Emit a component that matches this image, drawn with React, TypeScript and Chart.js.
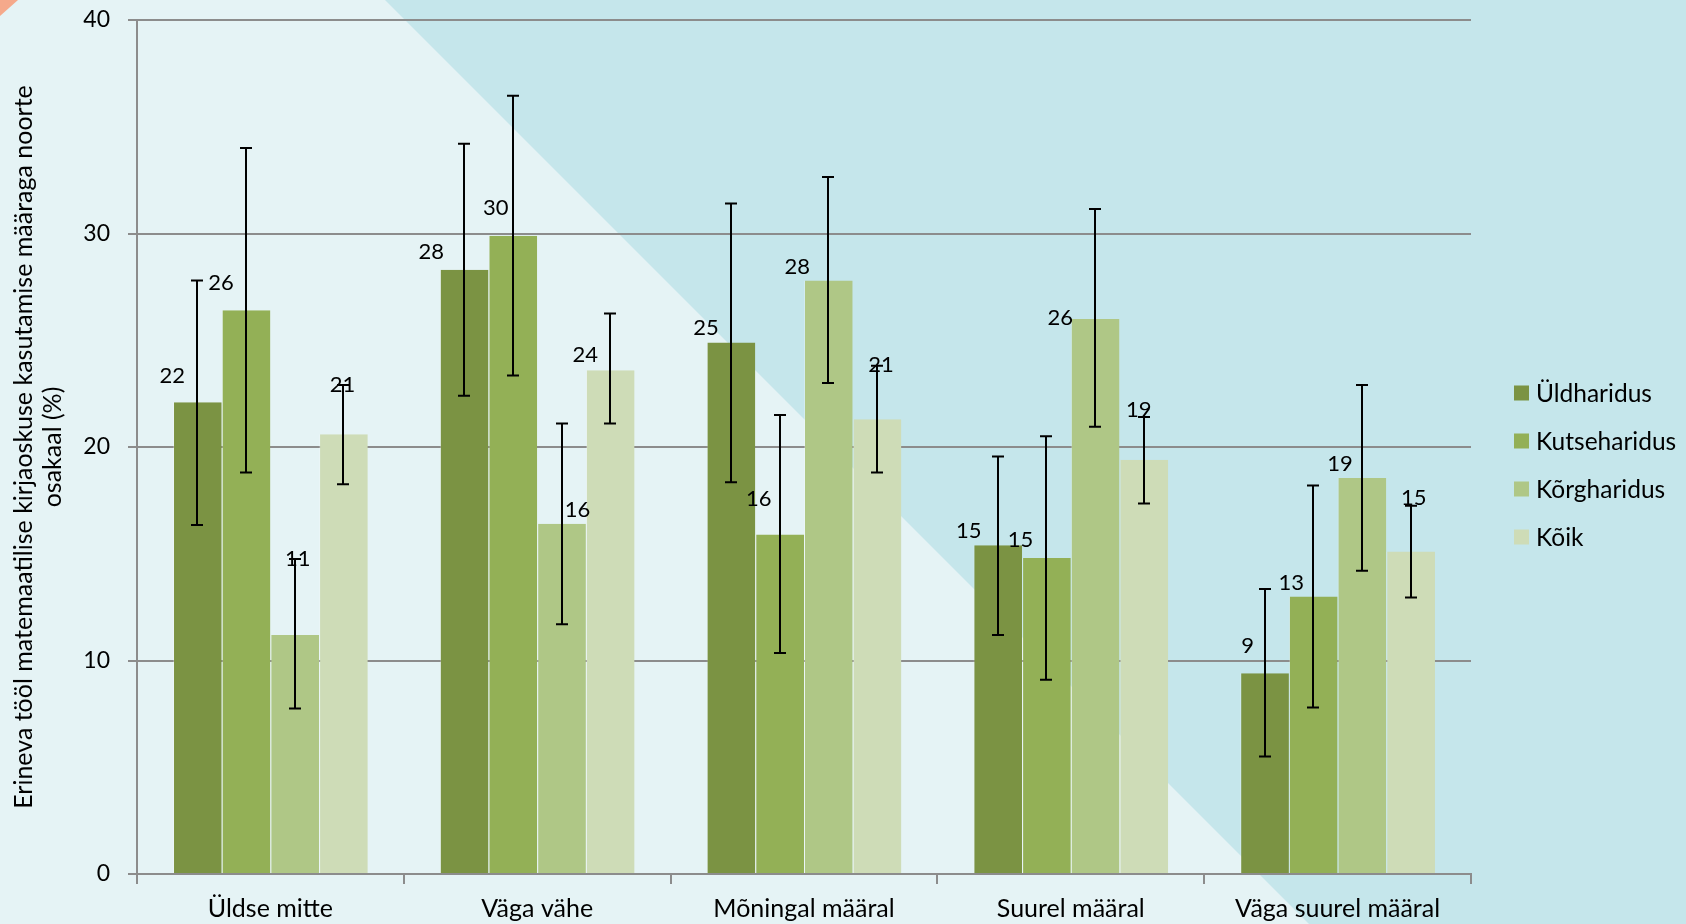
import React, { useEffect, useRef } from "react";
import { Chart, registerables } from "chart.js";

Chart.register(...registerables);

const categories = ["Üldse mitte", "Väga vähe", "Mõningal määral", "Suurel määral", "Väga suurel määral"];
const seriesNames = ["Üldharidus", "Kutseharidus", "Kõrgharidus", "Kõik"];

const yldharidus = [22.1, 28.3, 24.9, 15.4, 9.4];
const kutseharidus = [26.4, 29.9, 15.9, 14.8, 13.0];
const korgharidus = [11.2, 16.4, 27.8, 26.0, 18.55];
const koik = [20.6, 23.6, 21.3, 19.4, 15.1];

const yldLow = [16.35, 22.4, 18.35, 11.2, 5.5];
const yldHigh = [27.8, 34.2, 31.4, 19.55, 13.35];
const kutseLow = [18.8, 23.35, 10.35, 9.1, 7.8];
const kutseHigh = [34.0, 36.45, 21.5, 20.5, 18.2];
const korgLow = [7.75, 11.7, 23.0, 20.95, 14.2];
const korgHigh = [14.75, 21.1, 32.65, 31.15, 22.9];
const koikLow = [18.25, 21.1, 18.8, 17.35, 12.95];
const koikHigh = [22.9, 26.25, 23.8, 21.4, 17.25];

const yTicks = [0, 10, 20, 30, 40];
const yTitle = ["Erineva tööl matemaatilise kirjaoskuse kasutamise määraga noorte", "osakaal (%)"];

// label nudges (px) relative to bar centre / bar top, as placed in the original
const labelNudge = [
  [[-25, -26], [-33, -18], [-25, -14], [-29, -14], [-17, -27]],
  [[-25, -27], [-17, -28], [-21, -36], [-26, -18], [-22, -14]],
  [[3, -76], [16, -14], [-31, -14], [-35, -1], [-22, -14]],
  [[-1, -49], [-25, -15], [4, -54], [-5, -50], [3, -54]],
];

const colors = ["#7b9343", "#93b056", "#afc786", "#cedcb7"];
const FONT = "Lato, 'Open Sans', sans-serif";

export default function App() {
  const ref = useRef<HTMLCanvasElement | null>(null);

  useEffect(() => {
    document.body.style.margin = "0";
    const values = [yldharidus, kutseharidus, korgharidus, koik];
    const lows = [yldLow, kutseLow, korgLow, koikLow];
    const highs = [yldHigh, kutseHigh, korgHigh, koikHigh];

    const bgPlugin = {
      id: "bg",
      beforeDraw(chart: any) {
        const { ctx, width, height } = chart;
        ctx.save();
        ctx.fillStyle = "#e5f3f5";
        ctx.fillRect(0, 0, width, height);
        ctx.fillStyle = "#c5e6eb";
        ctx.beginPath();
        ctx.moveTo(385, 0);
        ctx.lineTo(width, 0);
        ctx.lineTo(width, height);
        ctx.lineTo(385 + height, height);
        ctx.closePath();
        ctx.fill();
        ctx.fillStyle = "#f5a98b";
        ctx.beginPath();
        ctx.moveTo(0, 0);
        ctx.lineTo(18, 0);
        ctx.lineTo(0, 16);
        ctx.closePath();
        ctx.fill();
        ctx.restore();
      },
    };

    const overlayPlugin = {
      id: "overlay",
      afterDatasetsDraw(chart: any) {
        const { ctx, scales } = chart;
        const ys = scales.y;
        ctx.save();
        // data labels
        ctx.font = `22px ${FONT}`;
        ctx.fillStyle = "#000";
        ctx.textAlign = "center";
        ctx.textBaseline = "middle";
        values.forEach((arr, i) => {
          const meta = chart.getDatasetMeta(i);
          meta.data.forEach((el: any, j: number) => {
            const [dx, dy] = labelNudge[i][j];
            const y = ys.getPixelForValue(arr[j]);
            ctx.fillText(String(Math.round(arr[j])), el.x + dx, y + dy);
          });
        });
        // error bars
        ctx.strokeStyle = "#000";
        ctx.lineWidth = 2;
        values.forEach((_arr, i) => {
          const meta = chart.getDatasetMeta(i);
          meta.data.forEach((el: any, j: number) => {
            const x = Math.round(el.x);
            const yl = ys.getPixelForValue(lows[i][j]);
            const yh = ys.getPixelForValue(highs[i][j]);
            ctx.beginPath();
            ctx.moveTo(x, yl);
            ctx.lineTo(x, yh);
            ctx.moveTo(x - 6, yl);
            ctx.lineTo(x + 6, yl);
            ctx.moveTo(x - 6, yh);
            ctx.lineTo(x + 6, yh);
            ctx.stroke();
          });
        });
        ctx.restore();
      },
      afterDraw(chart: any) {
        const { ctx, chartArea } = chart;
        ctx.save();
        ctx.font = `24.5px ${FONT}`;
        ctx.textAlign = "left";
        ctx.textBaseline = "middle";
        const mid = (chartArea.top + chartArea.bottom) / 2 + 18;
        chart.data.datasets.forEach((ds: any, i: number) => {
          const y = mid + (i - 1.5) * 48;
          const x = chartArea.right + 43;
          ctx.fillStyle = ds.backgroundColor;
          ctx.fillRect(x, y - 7.5, 15, 15);
          ctx.fillStyle = "#000";
          ctx.fillText(ds.label, x + 22, y + 1);
        });
        ctx.restore();
      },
    };

    const chart = new Chart(ref.current as HTMLCanvasElement, {
      type: "bar",
      data: {
        labels: categories,
        datasets: seriesNames.map((name, i) => ({
          label: name,
          data: values[i],
          backgroundColor: colors[i],
          borderColor: "rgba(255,255,255,0.25)",
          borderWidth: { left: 1, right: 0, top: 0, bottom: 0 },
          borderSkipped: false,
          categoryPercentage: 0.73,
          barPercentage: 1,
        })),
      },
      options: {
        responsive: false,
        animation: false,
        devicePixelRatio: 1,
        layout: { padding: { top: 20, right: 215, bottom: 0, left: 0 } },
        plugins: {
          legend: { display: false },
          tooltip: { enabled: false },
        },
        scales: {
          x: {
            grid: {
              display: true,
              drawOnChartArea: false,
              offset: true,
              tickLength: 10,
              color: "#8c8c8c",
              lineWidth: 2,
            },
            border: { display: true, color: "#8c8c8c", width: 2 },
            ticks: { font: { family: FONT, size: 25 }, color: "#000", padding: 10, maxRotation: 0 },
            afterFit: (s: any) => {
              s.height = 50;
            },
          },
          y: {
            min: 0,
            max: 40,
            afterBuildTicks: (s: any) => {
              s.ticks = yTicks.map((v) => ({ value: v }));
            },
            grid: { color: "#8c8c8c", lineWidth: 2, tickLength: 9 },
            border: { display: true, color: "#8c8c8c", width: 2 },
            ticks: { font: { family: FONT, size: 23 }, color: "#000", padding: 18 },
            title: {
              display: true,
              text: yTitle,
              font: { family: FONT, size: 25, lineHeight: 1.16 },
              color: "#000",
              padding: { top: 9.5, bottom: 0 },
            },
            afterFit: (s: any) => {
              s.width = 137;
              s.paddingTop = 0;
              s.paddingBottom = 0;
            },
          },
        },
      },
      plugins: [bgPlugin, overlayPlugin],
    });
    return () => chart.destroy();
  }, []);

  return (
    <div style={{ position: "fixed", left: 0, top: 0, width: 1686, height: 924 }}>
      <canvas ref={ref} width={1686} height={924} style={{ width: 1686, height: 924, display: "block" }} />
    </div>
  );
}
